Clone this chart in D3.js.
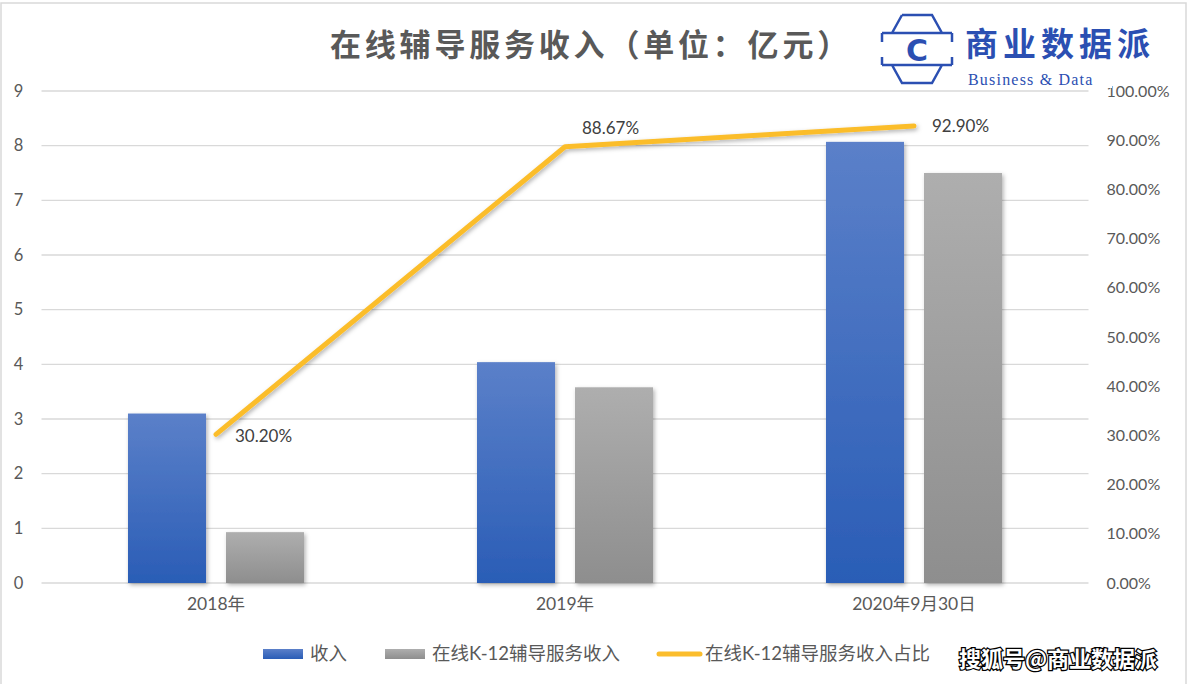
<!DOCTYPE html>
<html><head><meta charset="utf-8">
<script src="https://cdn.jsdelivr.net/npm/d3@7"></script>
<style>
html,body{margin:0;padding:0;background:#fff;}
svg{display:block;font-family:"Lato","Noto Sans CJK SC",sans-serif;}
</style></head>
<body>
<script>
// ---------- data ----------
const categories = ["2018年", "2019年", "2020年9月30日"];
const revenue = [3.10, 4.04, 8.07];          // 收入
const k12Revenue = [0.93, 3.58, 7.50];       // 在线K-12辅导服务收入
const k12Share = [0.3020, 0.8867, 0.9290];   // 占比
const shareLabels = ["30.20%", "88.67%", "92.90%"];
const leftTicks = [0,1,2,3,4,5,6,7,8,9];
const rightTicks = [0,0.1,0.2,0.3,0.4,0.5,0.6,0.7,0.8,0.9,1.0];
const seriesNames = ["收入", "在线K-12辅导服务收入", "在线K-12辅导服务收入占比"];
const title = "在线辅导服务收入（单位：亿元）";

// ---------- layout ----------
const W = 1190, H = 684;
const plot = {left: 41.5, right: 1088.5, top: 91, bottom: 583};
const FONT = "Lato, 'Noto Sans CJK SC', sans-serif";

const svg = d3.select("body").append("svg").attr("width", W).attr("height", H);
const defs = svg.append("defs");
const gBlue = defs.append("linearGradient").attr("id","gBlue").attr("x1",0).attr("y1",0).attr("x2",0).attr("y2",1);
gBlue.append("stop").attr("offset","0%").attr("stop-color","#5B80C9");
gBlue.append("stop").attr("offset","100%").attr("stop-color","#2A5DB6");
const gGray = defs.append("linearGradient").attr("id","gGray").attr("x1",0).attr("y1",0).attr("x2",0).attr("y2",1);
gGray.append("stop").attr("offset","0%").attr("stop-color","#AEAEAE");
gGray.append("stop").attr("offset","100%").attr("stop-color","#8E8E8E");
const sh = defs.append("filter").attr("id","shadow").attr("x","-20%").attr("y","-20%").attr("width","140%").attr("height","140%");
sh.append("feDropShadow").attr("dx",1.5).attr("dy",2).attr("stdDeviation",2).attr("flood-color","#000").attr("flood-opacity",0.3);

// background + frame
svg.append("rect").attr("x",0).attr("y",0).attr("width",W).attr("height",H).attr("fill","#fff");
svg.append("rect").attr("x",1).attr("y",3).attr("width",1185).attr("height",H+5)
  .attr("fill","none").attr("stroke","#d9d9d9").attr("stroke-width",1.5);

// scales
const x = d3.scaleBand().domain(categories).range([plot.left, plot.right]).padding(0);
const x1 = d3.scaleBand().domain(["rev","k12"]).range([-88, 88]).paddingInner(0.204);
const yL = d3.scaleLinear().domain([0,9]).range([plot.bottom, plot.top]);
const yR = d3.scaleLinear().domain([0,1]).range([plot.bottom, plot.top]);

// gridlines
svg.append("g").selectAll("line").data(leftTicks).join("line")
  .attr("x1", plot.left).attr("x2", plot.right)
  .attr("y1", d => yL(d)).attr("y2", d => yL(d))
  .attr("stroke", "#d9d9d9").attr("stroke-width", 1.3);

// left axis
const axL = svg.append("g").attr("transform", `translate(${plot.left-14},0)`)
  .call(d3.axisLeft(yL).tickValues(leftTicks).tickSize(0).tickPadding(0).tickFormat(d3.format("d")));
axL.select(".domain").remove();
axL.selectAll("text").style("font-family", FONT).style("font-size", "16.5px").attr("fill", "#595959").attr("text-anchor","middle").attr("dx", -9);

// right axis
const axR = svg.append("g").attr("transform", `translate(${plot.right+18},0)`)
  .call(d3.axisRight(yR).tickValues(rightTicks).tickSize(0).tickPadding(0).tickFormat(d3.format(".2%")));
axR.select(".domain").remove();
axR.selectAll("text").style("font-family", FONT).style("font-size", "16px").attr("fill", "#595959");

// category labels
const axB = svg.append("g").attr("transform", `translate(0,${plot.bottom+13})`)
  .call(d3.axisBottom(x).tickSize(0).tickPadding(0));
axB.select(".domain").remove();
axB.selectAll("text").style("font-family", FONT).style("font-size", "17.5px").attr("fill", "#595959").attr("dy", "0.8em");

// bars
const bars = svg.append("g").attr("filter","url(#shadow)");
bars.selectAll("rect.rev").data(categories).join("rect").attr("class","rev")
  .attr("x", d => x(d) + x.bandwidth()/2 + x1("rev"))
  .attr("width", x1.bandwidth())
  .attr("y", (d,i) => yL(revenue[i]))
  .attr("height", (d,i) => yL(0) - yL(revenue[i]))
  .attr("fill", "url(#gBlue)");
bars.selectAll("rect.k12").data(categories).join("rect").attr("class","k12")
  .attr("x", d => x(d) + x.bandwidth()/2 + x1("k12"))
  .attr("width", x1.bandwidth())
  .attr("y", (d,i) => yL(k12Revenue[i]))
  .attr("height", (d,i) => yL(0) - yL(k12Revenue[i]))
  .attr("fill", "url(#gGray)");

// line
const line = d3.line().x((d,i) => x(categories[i]) + x.bandwidth()/2).y(d => yR(d));
svg.append("path").datum(k12Share).attr("d", line)
  .attr("fill","none").attr("stroke","#FBBD2C").attr("stroke-width",5)
  .attr("stroke-linecap","round").attr("stroke-linejoin","round")
  .attr("filter","url(#shadow)");

// data labels
const labelOffsets = [[19, 2], [17, -19], [18, 0]];
svg.append("g").selectAll("text").data(k12Share).join("text")
  .attr("x", (d,i) => x(categories[i]) + x.bandwidth()/2 + labelOffsets[i][0])
  .attr("y", (d,i) => yR(d) + labelOffsets[i][1])
  .attr("dy", "0.35em")
  .style("font-size", "17px").attr("fill", "#404040")
  .text((d,i) => shareLabels[i]);

// title
svg.append("text").attr("x", 591).attr("y", 45).attr("dy","0.35em")
  .attr("text-anchor","middle").style("font-size", "31px").attr("font-weight","bold")
  .attr("letter-spacing", 3.8).attr("fill","#595959").text(title);

// logo
const logo = svg.append("g");
logo.append("rect").attr("x",872).attr("y",8).attr("width",240).attr("height",80).attr("fill","#fff");
const blue = "#2B4FB2";
logo.append("path").attr("d","M902,15 L932,15 L942,33 M882,33 L952,33 M892,33 L902,15 M882,33 L882,42 M952,33 L952,42 M882,57 L882,65 M952,57 L952,65 M882,65 L952,65 M892,65 L902,83 L932,83 L942,65")
  .attr("fill","none").attr("stroke",blue).attr("stroke-width",2.5);
logo.append("text").attr("x",917).attr("y",50).attr("dy","0.35em").attr("text-anchor","middle")
  .style("font-family","'DejaVu Sans'").attr("font-weight","bold").style("font-size","30px").attr("fill",blue).text("C");
logo.append("text").attr("x",965).attr("y",44).attr("dy","0.35em")
  .style("font-family","'Noto Sans CJK SC'").attr("font-weight","bold").style("font-size","33px")
  .attr("letter-spacing",5).attr("fill",blue).text("商业数据派");
logo.append("text").attr("x",968).attr("y",79).attr("dy","0.35em")
  .style("font-family","'Liberation Serif'").style("font-size","16px")
  .attr("letter-spacing",1.2).attr("fill",blue).text("Business & Data");

// legend
const legend = svg.append("g");
const legItems = [
  {x:263, type:"rect", fill:"url(#gBlue)", name:seriesNames[0]},
  {x:385, type:"rect", fill:"url(#gGray)", name:seriesNames[1]},
  {x:657, type:"line", fill:"#FBBD2C", name:seriesNames[2]}
];
legItems.forEach(it => {
  if (it.type === "rect") {
    legend.append("rect").attr("x", it.x).attr("y", 649).attr("width", 40).attr("height", 10).attr("fill", it.fill);
    legend.append("text").attr("x", it.x + 47).attr("y", 654).attr("dy","0.35em")
      .style("font-size", "18.5px").attr("fill","#595959").text(it.name);
  } else {
    legend.append("line").attr("x1", it.x+2).attr("x2", it.x+43).attr("y1", 654).attr("y2", 654)
      .attr("stroke", it.fill).attr("stroke-width", 5).attr("stroke-linecap","round");
    legend.append("text").attr("x", it.x + 48).attr("y", 654).attr("dy","0.35em")
      .style("font-size", "18.5px").attr("fill","#595959").text(it.name);
  }
});

// watermark
svg.append("text").attr("x", 1058).attr("y", 659).attr("dy","0.35em").attr("text-anchor","middle")
  .style("font-family","'Noto Sans CJK SC'").attr("font-weight","bold").style("font-size","22px")
  .attr("fill","#fff").attr("stroke","#000").attr("stroke-width",2.5).attr("paint-order","stroke")
  .text("搜狐号@商业数据派");
</script>
</body></html>
